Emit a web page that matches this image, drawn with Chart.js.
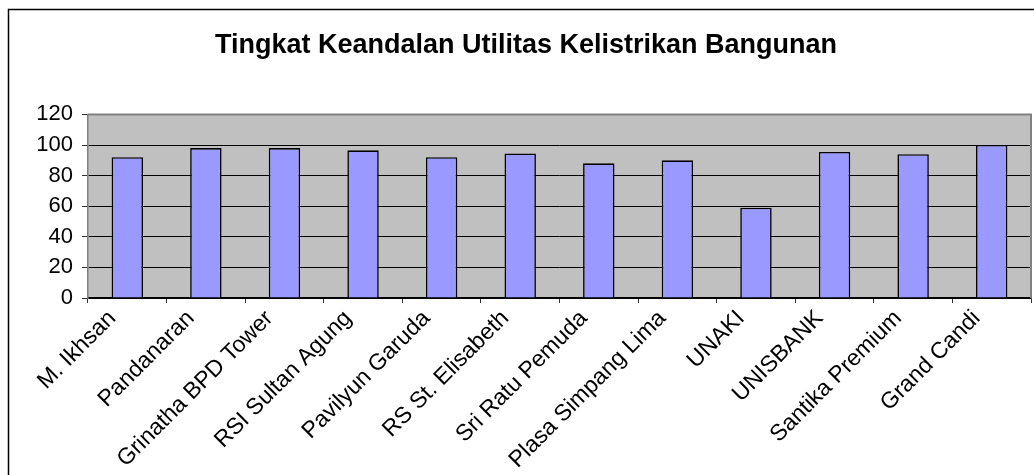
<!DOCTYPE html>
<html>
<head>
<meta charset="utf-8">
<title>Tingkat Keandalan Utilitas Kelistrikan Bangunan</title>
<script src="https://cdn.jsdelivr.net/npm/chart.js@4/dist/chart.umd.min.js"></script>
<style>
  html, body { margin: 0; padding: 0; background: #fff; }
  canvas { display: block; }
</style>
</head>
<body>
<canvas id="chart" width="1034" height="475"></canvas>
<script>
const buildings = [
  "M. Ikhsan", "Pandanaran", "Grinatha BPD Tower", "RSI Sultan Agung",
  "Pavilyun Garuda", "RS St. Elisabeth", "Sri Ratu Pemuda", "Plasa Simpang Lima",
  "UNAKI", "UNISBANK", "Santika Premium", "Grand Candi"
];
const reliability = [92, 98, 98, 96.5, 92, 94.5, 88, 90, 59, 95.5, 94, 100];
const yTicks = [0, 20, 40, 60, 80, 100, 120];

// grey plot background + frame like the old Excel chart
const plotFrame = {
  id: "plotFrame",
  beforeDraw(chart) {
    const { ctx, chartArea: a } = chart;
    ctx.save();
    ctx.fillStyle = "#C0C0C0";
    ctx.fillRect(a.left, a.top, a.right - a.left, a.bottom - a.top);
    ctx.restore();
  },
  afterDraw(chart) {
    const { ctx, chartArea: a } = chart;
    ctx.save();
    ctx.strokeStyle = "#808080";
    ctx.lineWidth = 2;
    ctx.beginPath();
    ctx.moveTo(a.left, a.top);
    ctx.lineTo(a.right, a.top);
    ctx.lineTo(a.right, a.bottom);
    ctx.stroke();
    // outer chart border
    ctx.strokeStyle = "#000";
    ctx.lineWidth = 1.5;
    ctx.strokeRect(8.5, 9.5, 1100, 600);
    ctx.restore();
  }
};

new Chart(document.getElementById("chart"), {
  type: "bar",
  data: {
    labels: buildings,
    datasets: [
      {
        data: reliability,
        backgroundColor: "#9999FF",
        borderColor: "#000",
        borderWidth: 1.6,
        categoryPercentage: 1,
        barPercentage: 0.4,
      },
    ],
  },
  options: {
    responsive: false,
    animation: false,
    layout: { padding: { left: 21, right: 3, top: 0, bottom: 0 } },
    plugins: {
      legend: { display: false },
      tooltip: { enabled: false },
      title: {
        display: true,
        text: "Tingkat Keandalan Utilitas Kelistrikan Bangunan",
        color: "#000",
        font: { family: "Liberation Sans, Arial, sans-serif", size: 27, weight: "bold" },
        padding: { top: 29, bottom: 53 },
      },
    },
    scales: {
      x: {
        grid: {
          offset: true,
          drawOnChartArea: false,
          drawTicks: true,
          tickLength: 5,
          tickColor: "#333",
        },
        border: { color: "#000", width: 1.5 },
        ticks: {
          color: "#000",
          maxRotation: 45,
          minRotation: 45,
          autoSkip: false,
          padding: 2,
          labelOffset: -15,
          font: { family: "Liberation Sans, Arial, sans-serif", size: 23 },
        },
        afterFit(scale) { scale.height = 177; },
      },
      y: {
        min: 0,
        max: 120,
        afterBuildTicks(scale) { scale.ticks = yTicks.map((v) => ({ value: v })); },
        grid: {
          color: (c) => (c.tick && c.tick.value === 120 ? "rgba(0,0,0,0)" : "#000"),
          tickColor: "#333",
          tickLength: 6,
        },
        border: { color: "#808080", width: 1.5 },
        ticks: {
          color: "#000",
          padding: 9,
          font: { family: "Liberation Sans, Arial, sans-serif", size: 22 },
        },
        afterFit(scale) { scale.width = 67; },
      },
    },
  },
  plugins: [plotFrame],
});
</script>
</body>
</html>
